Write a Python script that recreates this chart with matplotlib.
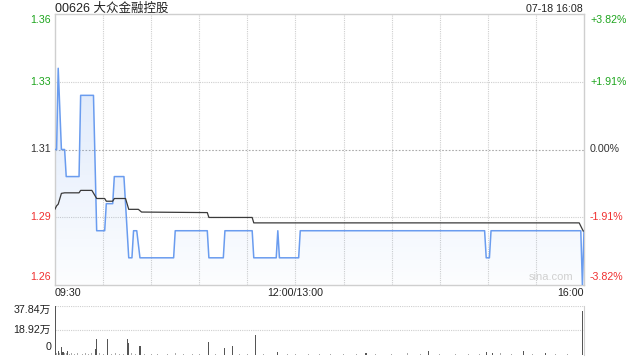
import numpy as np
import matplotlib.pyplot as plt
import matplotlib.transforms as mtransforms
from matplotlib.patches import Polygon

plt.rcParams['font.family'] = ['Liberation Sans', 'Noto Sans CJK SC']

TITLE = "00626 大众金融控股"
STAMP = "07-18 16:08"
PREV_CLOSE = 1.31
TOTAL_MIN = 330  # 09:30-12:00 + 13:00-16:00

# minute-line price (minutes since 09:30, HKD)
price_t = [0, 1, 2, 4, 6, 7, 15, 16, 24, 26, 31, 32, 36, 37, 43, 46, 48, 49, 51, 53,
           74, 75, 95, 96, 105, 106, 123, 124, 138, 139, 140, 152, 153,
           268, 269, 271, 272, 328, 329, 330]
price_v = [1.31, 1.31, 1.34, 1.31, 1.31, 1.30, 1.30, 1.33, 1.33, 1.28, 1.28, 1.29, 1.29,
           1.30, 1.30, 1.27, 1.27, 1.28, 1.28, 1.27, 1.27, 1.28, 1.28, 1.27, 1.27,
           1.28, 1.28, 1.27, 1.27, 1.28, 1.27, 1.27, 1.28, 1.28, 1.27, 1.27, 1.28,
           1.28, 1.26, 1.28]

# average price line
avg_t = [0, 1, 2, 4, 6, 15, 16, 23, 26, 31, 32, 36, 37, 44, 46, 52, 54,
         95, 96, 123, 124, 327, 329.5]
avg_v = [1.2880, 1.2892, 1.2898, 1.2938, 1.2940, 1.2940, 1.2949, 1.2949, 1.2919,
         1.2919, 1.2909, 1.2909, 1.2919, 1.2919, 1.2879, 1.2879, 1.2869, 1.2867,
         1.2849, 1.2849, 1.2829, 1.2829, 1.2799]

# volume per minute (万股)
vol_t = [0, 2, 4, 5, 8, 25, 26, 33, 45, 46, 53, 96, 106, 111, 125, 139, 194,
         233, 269, 273, 292, 306, 329]
vol_v = [37.84, 2.5, 5.9, 2.0, 3.0, 4.0, 12.0, 12.0, 12.0, 9.0, 6.6, 9.5, 5.3,
         6.6, 15.0, 2.0, 1.5, 3.0, 2.0, 1.5, 2.5, 1.5, 34.0]
# tiny trades that make the dotted baseline
small_t = [1, 3, 6, 7, 9, 10, 12, 14, 17, 19, 21, 23, 28, 30, 35, 38, 40, 43,
           48, 50, 56, 60, 64, 70, 75, 80, 86, 90, 100, 115, 120, 130, 145,
           150, 158, 165, 172, 180, 188, 200, 210, 220, 228, 240, 250, 258,
           265, 278, 285, 298, 312, 320]
small_v = [0.8, 1.0, 1.2, 0.8, 0.6, 0.8, 0.6, 0.8, 0.6, 0.8, 0.6, 0.8, 0.8, 0.6,
           0.6, 0.8, 0.6, 0.6, 0.8, 0.6, 0.6, 0.6, 0.6, 0.6, 0.8, 0.6, 0.6, 0.6,
           0.6, 0.6, 0.6, 0.6, 0.6, 0.6, 0.6, 0.6, 0.6, 0.6, 0.6, 0.6, 0.6, 0.8,
           0.6, 0.6, 0.6, 0.6, 0.6, 0.8, 0.6, 0.6, 0.6, 0.6]

price_ticks = [1.36, 1.335, 1.31, 1.285, 1.26]
price_labels = ["1.36", "1.33", "1.31", "1.29", "1.26"]
pct_labels = ["+3.82%", "+1.91%", "0.00%", "-1.91%", "-3.82%"]
vol_ticks = [37.84, 18.92, 0]
vol_labels = ["37.84万", "18.92万", "0"]
time_ticks = [0, 150, 330]
time_labels = ["09:30", "12:00/13:00", "16:00"]

UP = "#1ea51e"
DOWN = "#f03030"
FLAT = "#333333"
LINE = "#6a9cef"
GRID = "#cfcfcf"
FS = 7.7

fig = plt.figure(figsize=(6.4, 3.6), dpi=100)
ax = fig.add_axes([55 / 640, 1 - 285 / 360, 529 / 640, 271 / 360])
vax = fig.add_axes([55 / 640, 1 - 354.5 / 360, 529 / 640, 48.5 / 360])

span = PREV_CLOSE * 0.0382
ymin, ymax = PREV_CLOSE - span, PREV_CLOSE + span
ax.set_xlim(0, TOTAL_MIN)
ax.set_ylim(ymin, ymax)

# grid
for v in price_ticks[1:-1]:
    ax.axhline(v, color="#aaaaaa" if v == PREV_CLOSE else GRID, lw=0.8,
               ls=(0, (1.5, 1.5)) if v == PREV_CLOSE else (0, (1, 1)), zorder=0)
for m in range(30, TOTAL_MIN, 30):
    ax.axvline(m, color=GRID, lw=0.8, ls=(0, (1, 1)), zorder=0)

# gradient fill under price line
verts = [(price_t[0], ymin)] + list(zip(price_t, price_v)) + [(price_t[-1], ymin)]
poly = Polygon(verts, closed=True, facecolor="none", edgecolor="none")
ax.add_patch(poly)
grad = np.zeros((100, 2, 4))
grad[..., 0] = 0.42
grad[..., 1] = 0.62
grad[..., 2] = 0.94
grad[..., 3] = np.linspace(0.28, 0.02, 100)[:, None]
im = ax.imshow(grad, extent=[0, TOTAL_MIN, ymin, ymax], origin="upper",
               aspect="auto", zorder=1)
im.set_clip_path(poly)

ax.plot(price_t, price_v, color=LINE, lw=1.1, zorder=3)
ax.plot(avg_t, avg_v, color="#3a3a3a", lw=0.9, zorder=4)

for s in ax.spines.values():
    s.set_color(GRID)
    s.set_linewidth(1)
ax.set_xticks([])
ax.set_yticks([])

# price / percent labels
left_tr = mtransforms.blended_transform_factory(ax.transAxes, ax.transData)
n = len(price_ticks)
for i, (v, lab, pct) in enumerate(zip(price_ticks, price_labels, pct_labels)):
    c = UP if v > PREV_CLOSE else (DOWN if v < PREV_CLOSE else FLAT)
    dy = -6 if i == 0 else (8 if i == n - 1 else 0)
    off_l = mtransforms.ScaledTranslation(-4 / 100, dy / 100, fig.dpi_scale_trans)
    off_r = mtransforms.ScaledTranslation(6 / 100, dy / 100, fig.dpi_scale_trans)
    ax.text(0, v, lab, transform=left_tr + off_l, ha="right", va="center",
            color=c, fontsize=FS)
    ax.text(1, v, pct, transform=left_tr + off_r, ha="left", va="center",
            color=c, fontsize=FS)

# time labels
bot_tr = mtransforms.blended_transform_factory(ax.transData, ax.transAxes)
aligns = ["left", "center", "right"]
for m, lab, ha in zip(time_ticks, time_labels, aligns):
    off = mtransforms.ScaledTranslation(0, -8 / 100, fig.dpi_scale_trans)
    ax.text(m, 0, lab, transform=bot_tr + off, ha=ha, va="center",
            color="#222222", fontsize=FS)

fig.text(55 / 640, 1 - 8.5 / 360, TITLE, ha="left", va="center",
         fontsize=9, color="#222222")
fig.text(583 / 640, 1 - 8.5 / 360, STAMP, ha="right", va="center",
         fontsize=FS, color="#222222")
ax.text(0.98, 0.03, "sina.com", transform=ax.transAxes, ha="right",
        va="center", fontsize=8, color="#d0d0d0", zorder=2)

# volume panel
vax.set_xlim(0, TOTAL_MIN)
vax.set_ylim(0, 37.84)
vax.bar(small_t, small_v, width=0.6, color="#aaaaaa", zorder=2)
vax.bar(vol_t, vol_v, width=0.7, color="#555555", zorder=3)
for v in vol_ticks[:-1]:
    vax.axhline(v, color=GRID, lw=0.8, ls=(0, (1, 1)), zorder=0)
for k in ["left", "bottom", "top"]:
    vax.spines[k].set_visible(False)
vax.spines["right"].set_color(GRID)
vax.set_xticks([])
vax.set_yticks([])
vl_tr = mtransforms.blended_transform_factory(vax.transAxes, vax.transData)
for i, (v, lab) in enumerate(zip(vol_ticks, vol_labels)):
    dy = -4 if i == 0 else (7 if i == len(vol_ticks) - 1 else 0)
    off = mtransforms.ScaledTranslation(-4 / 100, dy / 100, fig.dpi_scale_trans)
    vax.text(0, v, lab, transform=vl_tr + off, ha="right", va="center",
             color="#222222", fontsize=FS)

fig.savefig("out.png", dpi=100)
